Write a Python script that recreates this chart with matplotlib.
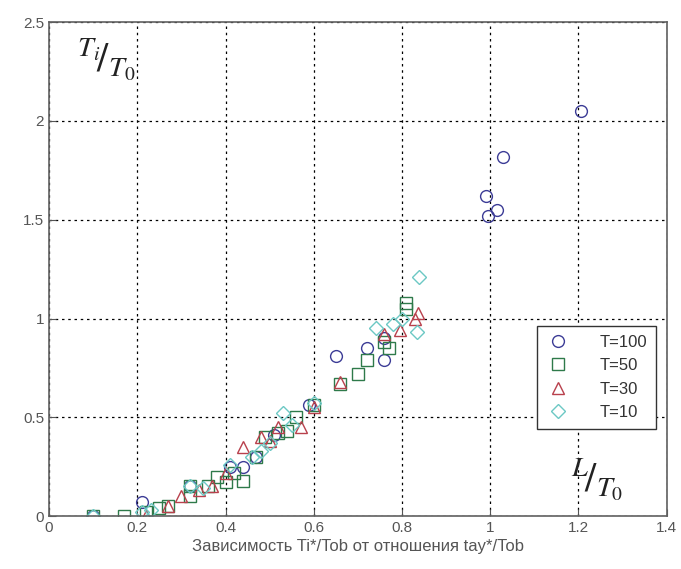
import numpy as np
from matplotlib import pyplot as plt

plt.rcParams['font.family'] = ['Liberation Sans', 'DejaVu Sans']
plt.rcParams['mathtext.fontset'] = 'stix'

# T=100
x_100 = [0.10, 0.21, 0.32, 0.41, 0.44, 0.47, 0.51, 0.59, 0.65, 0.72, 0.76, 0.76, 0.99, 0.995, 1.015, 1.03, 1.205]
y_100 = [0.00, 0.07, 0.15, 0.25, 0.25, 0.30, 0.41, 0.56, 0.81, 0.85, 0.79, 0.90, 1.62, 1.52, 1.55, 1.82, 2.05]
# T=50
x_50 = [0.10, 0.17, 0.22, 0.25, 0.27, 0.32, 0.32, 0.36, 0.38, 0.40, 0.42, 0.44, 0.47, 0.49, 0.52, 0.54,
        0.56, 0.60, 0.66, 0.70, 0.72, 0.76, 0.77, 0.81, 0.81]
y_50 = [0.00, 0.00, 0.02, 0.04, 0.05, 0.10, 0.15, 0.15, 0.20, 0.17, 0.22, 0.18, 0.30, 0.40, 0.42, 0.43,
        0.50, 0.56, 0.67, 0.72, 0.79, 0.88, 0.85, 1.08, 1.05]
# T=30
x_30 = [0.22, 0.27, 0.30, 0.34, 0.37, 0.40, 0.44, 0.48, 0.50, 0.52, 0.57, 0.60, 0.66, 0.76, 0.795, 0.83, 0.836]
y_30 = [0.00, 0.05, 0.10, 0.13, 0.15, 0.22, 0.35, 0.40, 0.38, 0.45, 0.45, 0.55, 0.68, 0.92, 0.94, 1.00, 1.03]
# T=10
x_10 = [0.10, 0.21, 0.23, 0.32, 0.35, 0.41, 0.46, 0.48, 0.50, 0.53, 0.55, 0.60, 0.74, 0.78, 0.80, 0.838, 0.834]
y_10 = [0.00, 0.02, 0.03, 0.15, 0.14, 0.26, 0.30, 0.33, 0.37, 0.52, 0.46, 0.57, 0.95, 0.97, 1.00, 1.21, 0.93]

series = [
    (x_100, y_100, 'o', '#3c3c96', 'T=100'),
    (x_50, y_50, 's', '#2e7a4a', 'T=50'),
    (x_30, y_30, '^', '#b8404c', 'T=30'),
    (x_10, y_10, 'D', '#6cc8c4', 'T=10'),
]

fig = plt.figure(figsize=(6.81, 5.69), dpi=100)
ax = fig.add_axes([0.072, 0.093, 0.907, 0.868])

for xs, ys, m, c, lab in series:
    ms = 7 if m == 'D' else 8.5
    ax.plot(xs, ys, linestyle='none', marker=m, markersize=ms, markerfacecolor='none',
            markeredgecolor=c, markeredgewidth=1.0, label=lab)

ax.set_xlim(0, 1.4)
ax.set_ylim(0, 2.5)
ax.set_xticks(np.arange(0, 1.41, 0.2))
ax.set_yticks(np.arange(0, 2.51, 0.5))
ax.set_xticklabels(['0', '0.2', '0.4', '0.6', '0.8', '1', '1.2', '1.4'])
ax.set_yticklabels(['0', '0.5', '1', '1.5', '2', '2.5'])
ax.tick_params(direction='in', length=5, colors='#555555', labelsize=11, labelcolor='#555555')
ax.grid(True, color='black', linestyle=(0, (2, 3)), linewidth=0.9)
for sp in ax.spines.values():
    sp.set_color('#606060')
    sp.set_linewidth(1.2)

ax.set_xlabel('Зависимость Ti*/Tob от отношения tay*/Tob', fontsize=12, color='#555555', labelpad=3)

ax.text(0.045, 0.925, r'$^{T_i}\!/_{T_0}$', transform=ax.transAxes, fontsize=29,
        ha='left', va='center', color='#222222')
ax.text(0.845, 0.075, r'$^{L}\!/_{T_0}$', transform=ax.transAxes, fontsize=29,
        ha='left', va='center', color='#222222')

leg = ax.legend(loc='lower right', bbox_to_anchor=(0.983, 0.176), fontsize=12, frameon=True,
                fancybox=False, edgecolor='#333333', framealpha=1, handlelength=1.4,
                handletextpad=1.8, borderpad=0.55, labelspacing=0.5, borderaxespad=0)
leg.get_frame().set_linewidth(1.0)
for t in leg.get_texts():
    t.set_color('#333333')

fig.savefig('out.png', dpi=100)
